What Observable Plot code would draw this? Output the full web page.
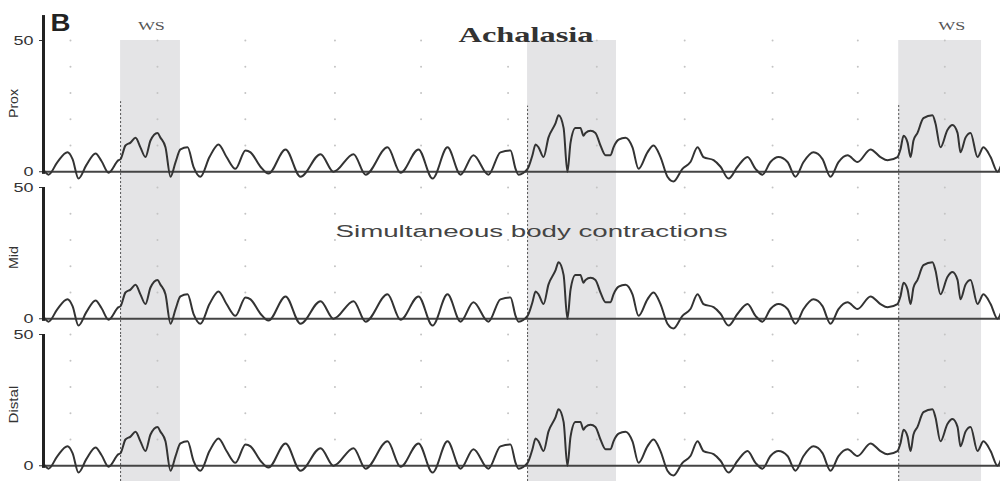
<!DOCTYPE html>
<html>
<head>
<meta charset="utf-8">
<script src="https://cdn.jsdelivr.net/npm/d3@7"></script>
<script src="https://cdn.jsdelivr.net/npm/@observablehq/plot@0.6"></script>
<style>
  html, body { margin: 0; padding: 0; background: #fff; }
  #chart { width: 1000px; height: 487px; }
</style>
</head>
<body>
<div id="chart"></div>
<script>
// Manometry channels, top to bottom
const channels = ["Prox", "Mid", "Distal"];

// Time (s) of each sample of the pressure record
const seconds = [
  0.0, 0.29, 0.80, 1.38, 1.67, 2.01, 2.47, 2.99, 3.33, 3.74,
  4.31, 4.43, 4.71, 5.0, 5.29, 5.57, 5.86, 6.15, 6.55, 6.72,
  7.01, 7.30, 7.59, 7.87, 8.28, 8.62, 9.02, 9.54, 10.06, 10.52,
  11.03, 11.61, 11.90, 12.47, 12.93, 13.91, 14.77, 15.92, 16.67, 17.82,
  18.51, 19.77, 20.52, 21.55, 22.36, 23.22, 23.97, 24.71, 25.57, 26.26,
  26.84, 27.13, 27.30, 27.82, 28.10, 28.28, 28.45, 28.74, 29.02, 29.43,
  29.60, 29.89, 30.11, 30.29, 30.57, 30.86, 31.03, 31.15, 31.44, 31.72,
  32.01, 32.30, 32.59, 32.76, 33.05, 33.45, 33.85, 34.20, 34.71, 35.06,
  35.46, 35.86, 36.21, 36.72, 37.18, 37.59, 37.93, 38.51, 38.91, 39.37,
  39.89, 40.46, 40.92, 41.32, 41.78, 42.24, 42.76, 43.22, 43.68, 44.25,
  44.77, 45.23, 45.69, 46.21, 46.78, 47.53, 48.10, 48.51, 49.08, 49.25,
  49.43, 49.66, 49.83, 50.00, 50.23, 50.57, 51.09, 51.26, 51.55, 51.95,
  52.24, 52.53, 52.70, 52.99, 53.28, 53.68, 54.02, 54.43, 54.83, 55.0
];

// Esophageal body pressure (mmHg); the contractions are simultaneous,
// so the same record appears at every level
const bodyPressure = [
  0.7, -1.1, 3.7, 7.4, 4.8, -2.6, 2.6, 7.0, 4.1, -0.4,
  4.4, 4.8, 10.0, 11.1, 13.0, 9.3, 5.6, 11.9, 14.8, 13.0,
  9.3, -1.9, 3.7, 8.5, 9.3, 1.9, -1.9, 5.6, 10.4, 5.6,
  1.1, 8.1, 7.4, 1.9, -0.7, 8.5, -1.9, 6.7, 0, 6.7,
  -1.1, 9.3, -0.4, 8.5, -2.6, 9.3, -1.1, 6.3, -1.1, 7.4,
  8.1, 1.1, -1.1, 1.1, 6.3, 10.4, 9.3, 5.6, 13.0, 18.5,
  21.5, 16.7, 0, 11.1, 16.7, 16.7, 13.7, 14.8, 15.6, 14.8,
  10.0, 6.3, 6.3, 9.3, 12.2, 13.0, 9.3, 1.1, 7.4, 10.0,
  5.6, -1.9, -3.7, 1.1, 3.7, 9.3, 5.6, 4.4, 1.9, -2.6,
  1.9, 5.6, 1.1, -1.1, 3.7, 5.6, 3.7, -1.9, 3.7, 7.4,
  4.8, -1.9, 3.7, 6.3, 3.7, 8.5, 5.6, 4.4, 5.6, 8.5,
  13.7, 11.1, 5.6, 11.9, 14.8, 20.4, 21.5, 18.5, 9.3, 15.9,
  17.8, 14.8, 7.4, 13.0, 14.8, 5.6, 9.3, 5.6, 0, 1.9
];

// Wet swallow windows (start, end in s) and the marker tops on the Prox channel
const swallowStart = [4.43, 27.82, 49.15];
const swallowEnd = [7.87, 32.93, 53.91];
const proxMarkerTop = [26.7, 25.0, 26.0];
const wsLabelTimes = [6.2, 52.2];

// Dotted reference grid
const gridSeconds = [1.55, 6.55, 11.6, 16.75, 21.7, 26.7, 31.8, 36.85, 41.9, 46.8, 51.8];
const gridLevels = [10, 20, 30, 40, 50];

// Channel label heights and axis-line tops (mmHg)
const channelLabelLevel = [26, 23.3, 23.3];
const axisTop = [59.5, 50, 50];

const yMin = -6, yMax = 50;

// ---- tables built from the arrays above ----
const trace = channels.flatMap(ch => seconds.map((t, i) => ({channel: ch, t, p: bodyPressure[i]})));
const bands = channels.flatMap(ch => swallowStart.map((s, i) => ({channel: ch, x1: s, x2: swallowEnd[i]})));
const markers = channels.flatMap((ch, c) => swallowStart.map((s, i) => ({
  channel: ch, x: s, y1: yMin, y2: c === 0 ? proxMarkerTop[i] : yMax
})));
const grid = channels.flatMap(ch => gridSeconds.flatMap(t => gridLevels.map(v => ({channel: ch, t, v}))));
const axisLines = channels.map((ch, i) => ({channel: ch, top: axisTop[i]}));
const channelLabels = channels.map((ch, i) => ({channel: ch, y: channelLabelLevel[i]}));
const wsLabels = wsLabelTimes.map(t => ({channel: "Prox", t, text: "WS"}));

const chart = Plot.plot({
  width: 1000,
  height: 487,
  marginLeft: 43,
  marginRight: 0,
  marginTop: 40,
  marginBottom: 6,
  style: {fontFamily: "Liberation Sans, Arial, sans-serif", fontSize: "13px", background: "#fff", color: "#333"},
  x: {domain: [0, 55], axis: null},
  y: {domain: [yMin, yMax], ticks: [0, 50], tickSize: 4, tickPadding: 6, label: null},
  fy: {domain: channels, padding: 0, axis: null},
  marks: [
    Plot.rectX(bands, {x1: "x1", x2: "x2", y1: yMin, y2: yMax, fy: "channel", fill: "#e4e4e6"}),
    Plot.dot(grid, {x: "t", y: "v", fy: "channel", r: 1, fill: "#c4c4c4", stroke: null}),
    Plot.ruleX(markers, {x: "x", y1: "y1", y2: "y2", fy: "channel", stroke: "#555", strokeWidth: 1, strokeDasharray: "2,2"}),
    Plot.ruleY([0], {stroke: "#444", strokeWidth: 1.8}),
    Plot.line(trace, {x: "t", y: "p", fy: "channel", curve: "monotone-x", stroke: "#333", strokeWidth: 2}),
    Plot.ruleX(axisLines, {x: 0, y1: -1, y2: "top", fy: "channel", stroke: "#222", strokeWidth: 3}),
    Plot.text(channelLabels, {
      text: "channel", fy: "channel", y: "y", frameAnchor: "left", dx: -29,
      rotate: -90, textAnchor: "middle", fontSize: 12, fill: "#333"
    }),
    Plot.text(wsLabels, {
      x: "t", y: 55.3, fy: "channel", text: "text",
      fontFamily: "Liberation Serif, serif", fontSize: 12, fill: "#555"
    }),
    Plot.text([{channel: "Prox"}], {
      x: 27.73, y: 52.2, fy: "channel", text: () => "Achalasia",
      fontFamily: "Liberation Serif, serif", fontWeight: "bold", fontSize: 22, fill: "#333"
    }),
    Plot.text([{channel: "Prox"}], {
      x: 0.4, y: 56.4, fy: "channel", text: () => "B", textAnchor: "start",
      fontWeight: "bold", fontSize: 23, fill: "#222"
    }),
    Plot.text([{channel: "Mid"}], {
      x: 28.05, y: 33.0, fy: "channel", text: () => "Simultaneous body contractions",
      fontSize: 16, fill: "#444"
    })
  ]
});

// The labels are drawn wide, so fit each string to its set width
const labelWidths = {
  "Achalasia": 135, "WS": 27, "B": 20, "Simultaneous body contractions": 392,
  "Prox": 29, "Mid": 23, "Distal": 38, "50": 20, "0": 10
};
d3.select(chart).selectAll("text").each(function () {
  const w = labelWidths[this.textContent];
  if (w && this.childElementCount === 0) {
    this.setAttribute("textLength", w);
    this.setAttribute("lengthAdjust", "spacingAndGlyphs");
  }
});

document.getElementById("chart").append(chart);
</script>
</body>
</html>
